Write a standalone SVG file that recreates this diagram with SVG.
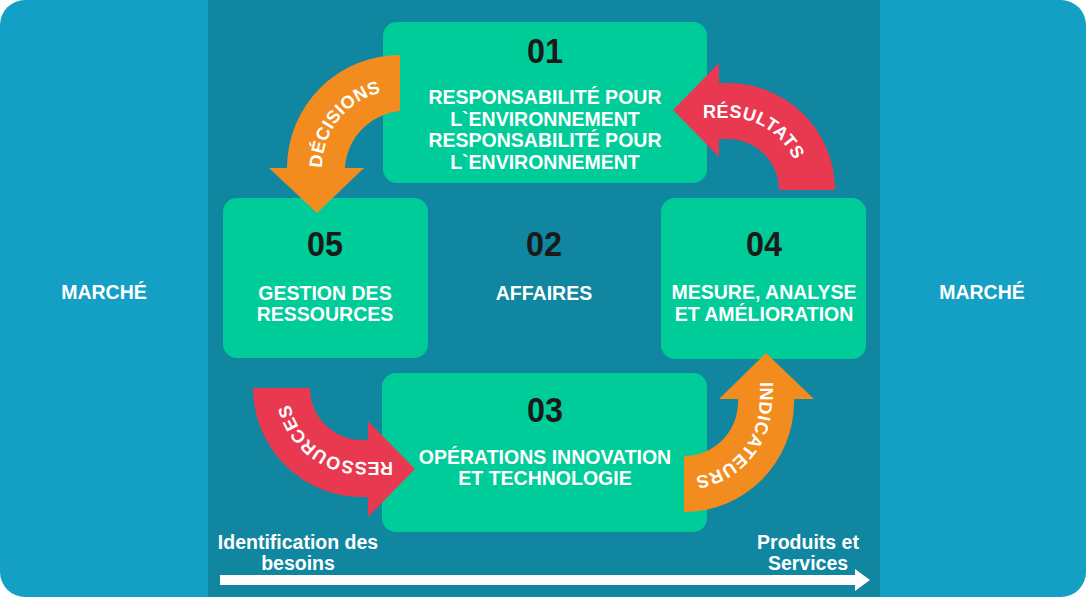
<svg xmlns="http://www.w3.org/2000/svg" width="1086" height="597" viewBox="0 0 1086 597">
<style>
.box{fill:#00cc99}
.num{font-family:"Liberation Sans",Arial,sans-serif;font-weight:bold;font-size:35px;fill:#1a1a1a;text-anchor:middle}
.lbl{font-family:"Liberation Sans",Arial,sans-serif;font-weight:bold;font-size:19.5px;fill:#ffffff;text-anchor:middle}
.arr{font-family:"Liberation Sans",Arial,sans-serif;font-weight:bold;font-size:18px;fill:#ffffff;letter-spacing:0.5px}
.orange{fill:#f28c1e}
.red{fill:#e83950}
</style>
<defs>
<path id="pDec" d="M 322,168 A 78 78 0 0 1 400,90"/>
<path id="pRes" d="M 703,117.5 L 728,117.5 A 72.5 72.5 0 0 1 800.5,190"/>
<path id="pRess" d="M 393,462 L 362,462 A 74 74 0 0 1 288,388"/>
<path id="pInd" d="M 759.5,382 L 759.5,402 A 75.5 75.5 0 0 1 684,477.5"/>
</defs>
<g id="background">
<rect x="0" y="0" width="1086" height="597" rx="25" ry="25" fill="#13a0c4"/>
<rect x="208" y="0" width="672" height="597" fill="#1086a0"/>
</g>
<g id="marche-left"><text class="lbl" x="104" y="299">MARCHÉ</text></g>
<g id="marche-right"><text class="lbl" x="982" y="299">MARCHÉ</text></g>
<g id="node01">
<rect class="box" x="383" y="22" width="324" height="161" rx="14"/>
<text class="num" x="545" y="63" textLength="36" lengthAdjust="spacingAndGlyphs">01</text>
<text class="lbl" x="545" y="104">RESPONSABILITÉ POUR</text>
<text class="lbl" x="545" y="126">L`ENVIRONNEMENT</text>
<text class="lbl" x="545" y="147">RESPONSABILITÉ POUR</text>
<text class="lbl" x="545" y="169">L`ENVIRONNEMENT</text>
</g>
<g id="node05">
<rect class="box" x="223" y="198" width="205" height="160" rx="14"/>
<text class="num" x="325" y="256" textLength="36" lengthAdjust="spacingAndGlyphs">05</text>
<text class="lbl" x="325" y="300">GESTION DES</text>
<text class="lbl" x="325" y="321">RESSOURCES</text>
</g>
<g id="node02">
<text class="num" x="544" y="256" textLength="36" lengthAdjust="spacingAndGlyphs">02</text>
<text class="lbl" x="544" y="300">AFFAIRES</text>
</g>
<g id="node04">
<rect class="box" x="661" y="198" width="205" height="161" rx="14"/>
<text class="num" x="764" y="256" textLength="36" lengthAdjust="spacingAndGlyphs">04</text>
<text class="lbl" x="764" y="299">MESURE, ANALYSE</text>
<text class="lbl" x="764" y="321">ET AMÉLIORATION</text>
</g>
<g id="node03">
<rect class="box" x="382" y="373" width="325" height="159" rx="14"/>
<text class="num" x="545" y="422" textLength="36" lengthAdjust="spacingAndGlyphs">03</text>
<text class="lbl" x="545" y="464">OPÉRATIONS INNOVATION</text>
<text class="lbl" x="545" y="485">ET TECHNOLOGIE</text>
</g>
<g id="connectors">
<g id="arrow-decisions">
<path class="orange" d="M 400,55 A 113 113 0 0 0 287,168 L 269,168 L 317,213 L 364,168 L 345,168 A 62 60 0 0 1 400,111 Z"/>
<text class="arr"><textPath href="#pDec">DÉCISIONS</textPath></text>
</g>
<g id="arrow-resultats">
<path class="red" d="M 835,190 A 107 107 0 0 0 728,83 L 719,83 L 719,63 L 673,110 L 719,157 L 719,139 L 728,139 A 51 51 0 0 1 779,190 Z"/>
<text class="arr"><textPath href="#pRes">RÉSULTATS</textPath></text>
</g>
<g id="arrow-ressources">
<path class="red" d="M 253,388 A 109 109 0 0 0 362,497 L 368,497 L 368,517 L 415,469 L 368,421 L 368,440 L 362,440 A 52 52 0 0 1 310,388 Z"/>
<text class="arr"><textPath href="#pRess">RESSOURCES</textPath></text>
</g>
<g id="arrow-indicateurs">
<path class="orange" d="M 684,512 A 110 110 0 0 0 794,402 L 794,399 L 814,399 L 766,353 L 719,399 L 738,399 L 738,402 A 54 54 0 0 1 684,456 Z"/>
<text class="arr"><textPath href="#pInd">INDICATEURS</textPath></text>
</g>
<g id="arrow-timeline">
<path d="M 220,575 L 855,575 L 855,569 L 870,580 L 855,591 L 855,585 L 220,585 Z" fill="#ffffff"/>
</g>
</g>
<g id="label-besoins">
<text class="lbl" x="298" y="549">Identification des</text>
<text class="lbl" x="298" y="570">besoins</text>
</g>
<g id="label-produits">
<text class="lbl" x="808" y="549">Produits et</text>
<text class="lbl" x="808" y="570">Services</text>
</g>
</svg>
